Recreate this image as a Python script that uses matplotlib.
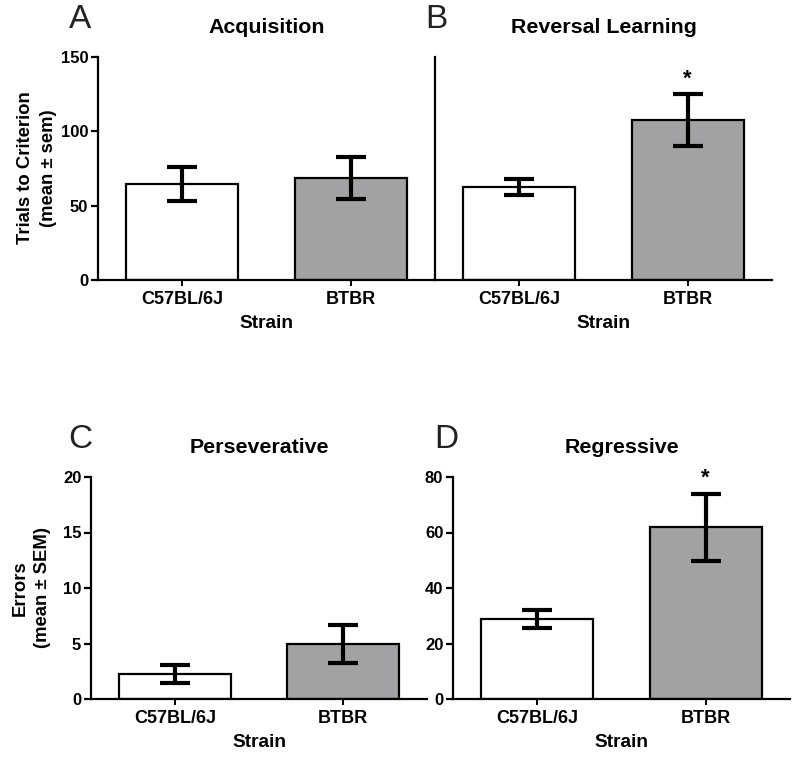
import matplotlib
matplotlib.use("Agg")
import matplotlib.pyplot as plt

plt.rcParams["font.family"] = ["Liberation Sans", "DejaVu Sans"]
plt.rcParams["font.weight"] = "bold"

# Data
strains = ["C57BL/6J", "BTBR"]
acq_mean = [64.4, 68.5]
acq_sem = [11.3, 14.1]
rev_mean = [62.8, 107.4]
rev_sem = [5.3, 17.4]
pers_mean = [2.25, 4.98]
pers_sem = [0.8, 1.73]
regr_mean = [28.8, 61.9]
regr_sem = [3.2, 12.1]

bar_colors = ["white", "#a2a2a5"]

W, H = 800, 757
fig = plt.figure(figsize=(W / 100, H / 100), dpi=100)


def rect(left, right, top, bottom):
    return [left / W, 1 - bottom / H, (right - left) / W, (bottom - top) / H]


def draw_panel(ax, means, sems, ymax, yticks, title, show_y=True, star=None):
    x = range(len(strains))
    ax.bar(x, means, width=0.667, color=bar_colors, edgecolor="black",
           linewidth=1.6, zorder=2)
    ax.errorbar(x, means, yerr=sems, fmt="none", ecolor="black",
                elinewidth=3, capsize=11, capthick=3, zorder=3)
    ax.set_xlim(-0.5, 1.5)
    ax.set_ylim(0, ymax)
    ax.set_xticks(list(x))
    ax.set_xticklabels(strains, fontsize=13, fontweight="bold")
    for s in ["top", "right"]:
        ax.spines[s].set_visible(False)
    ax.spines["left"].set_linewidth(1.6)
    ax.spines["bottom"].set_linewidth(1.6)
    ax.tick_params(axis="x", length=4, width=1.4, pad=4)
    if show_y:
        ax.set_yticks(yticks)
        ax.set_yticklabels([str(t) for t in yticks], fontsize=12, fontweight="bold")
        ax.tick_params(axis="y", length=5, width=1.6, pad=2)
    else:
        ax.set_yticks([])
    ax.set_xlabel("Strain", fontsize=13.8, fontweight="bold", labelpad=5)
    ax.set_title(title, fontsize=15.4, fontweight="bold", pad=17)
    if star is not None:
        ax.text(star, means[star] + sems[star] + ymax * 0.02, "*",
                ha="center", va="bottom", fontsize=16, fontweight="bold")


axA = fig.add_axes(rect(98, 435, 57, 280))
draw_panel(axA, acq_mean, acq_sem, 150, [0, 50, 100, 150], "Acquisition")
axB = fig.add_axes(rect(435, 772, 57, 280))
draw_panel(axB, rev_mean, rev_sem, 150, [], "Reversal Learning", show_y=False, star=1)
axC = fig.add_axes(rect(91, 427, 477, 699))
draw_panel(axC, pers_mean, pers_sem, 20, [0, 5, 10, 15, 20], "Perseverative")
axD = fig.add_axes(rect(453, 790, 477, 699))
draw_panel(axD, regr_mean, regr_sem, 80, [0, 20, 40, 60, 80], "Regressive", star=1)

# y labels
fig.text(37 / W, 1 - 168 / H, "Trials to Criterion\n(mean ± sem)", rotation=90,
         ha="center", va="center", fontsize=13.3, fontweight="bold",
         multialignment="center", linespacing=1.45)
fig.text(31 / W, 1 - 588 / H, "Errors\n(mean ± SEM)", rotation=90,
         ha="center", va="center", fontsize=13.3, fontweight="bold",
         multialignment="center", linespacing=1.4)

# panel letters
for lx, ly, letter in [(80, 20, "A"), (436, 20, "B"), (80, 440, "C"), (446, 440, "D")]:
    fig.text(lx / W, 1 - ly / H, letter, ha="center", va="center",
             fontsize=24, fontweight="normal", color="#222222")

fig.savefig("out.png", dpi=100)
